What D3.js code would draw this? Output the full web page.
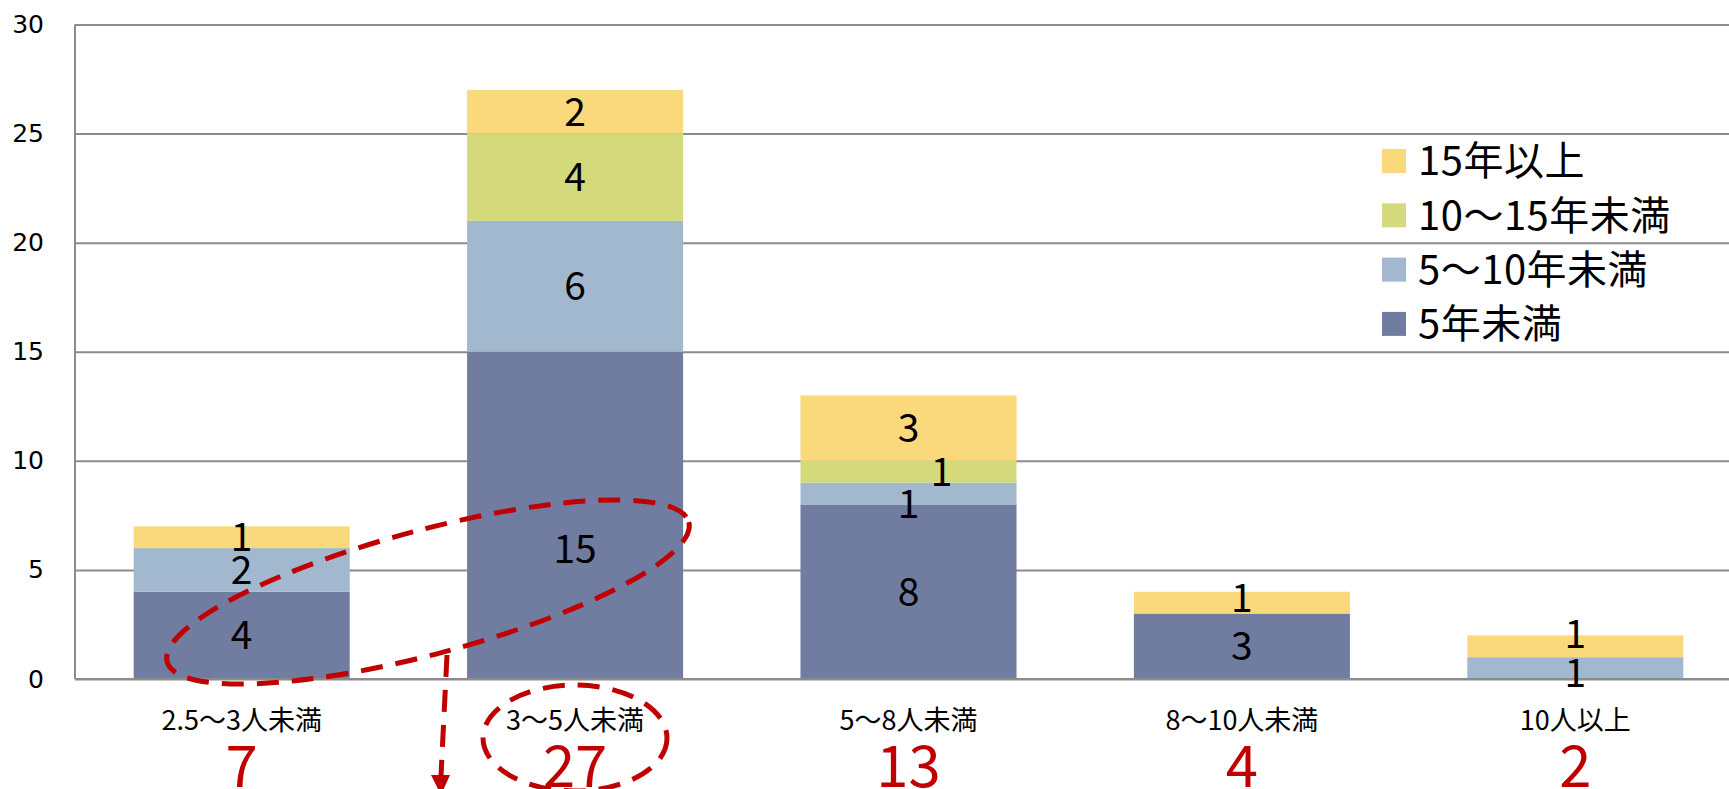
<!DOCTYPE html>
<html>
<head>
<meta charset="utf-8">
<script src="https://cdn.jsdelivr.net/npm/d3@7"></script>
<style>
  body { margin: 0; background: #fff; }
  svg { display: block; }
</style>
</head>
<body>
<div id="chart"></div>
<script>
// data
const categories = ["2.5〜3人未満", "3〜5人未満", "5〜8人未満", "8〜10人未満", "10人以上"];
const seriesNames = ["5年未満", "5〜10年未満", "10〜15年未満", "15年以上"];
const under5 = [4, 15, 8, 3, 0];
const from5to10 = [2, 6, 1, 0, 1];
const from10to15 = [0, 4, 1, 0, 0];
const over15 = [1, 2, 3, 1, 1];
const yTicks = [0, 5, 10, 15, 20, 25, 30];

const colors = ["#717ca1", "#a2b8ce", "#d4da7c", "#fad97c"];

const width = 1729;
const height = 789;
const margin = {top: 24.5, left: 75, bottom: 110};

const rows = categories.map((c, i) => ({
  cat: c,
  [seriesNames[0]]: under5[i],
  [seriesNames[1]]: from5to10[i],
  [seriesNames[2]]: from10to15[i],
  [seriesNames[3]]: over15[i]
}));

const svg = d3.select("#chart").append("svg")
  .attr("width", width)
  .attr("height", height);

const x = d3.scaleBand()
  .domain(categories)
  .range([margin.left, 1742])
  .paddingInner(0.352)
  .paddingOuter(0.176);

const y = d3.scaleLinear()
  .domain([0, 30])
  .range([height - margin.bottom, margin.top]);

const color = d3.scaleOrdinal().domain(seriesNames).range(colors);

// gridlines + y labels
const yAxis = svg.append("g")
  .attr("transform", `translate(${margin.left},0)`)
  .call(d3.axisLeft(y).tickValues(yTicks).tickSize(-(width - margin.left)).tickPadding(31));
yAxis.select(".domain").remove();
yAxis.selectAll("line").attr("stroke", "#8c8c8c").attr("stroke-width", 2);
yAxis.selectAll("text")
  .attr("font-family", "DejaVu Sans")
  .attr("font-size", 25)
  .attr("fill", "#000");

svg.append("line")
  .attr("x1", margin.left).attr("x2", margin.left)
  .attr("y1", y(30)).attr("y2", y(0))
  .attr("stroke", "#8c8c8c").attr("stroke-width", 2);

// stacked bars
const stacked = d3.stack().keys(seriesNames)(rows);

svg.append("g").selectAll("g")
  .data(stacked)
  .join("g")
  .attr("fill", d => color(d.key))
  .selectAll("rect")
  .data(d => d)
  .join("rect")
  .attr("x", d => x(d.data.cat))
  .attr("width", x.bandwidth())
  .attr("y", d => y(d[1]))
  .attr("height", d => y(d[0]) - y(d[1]));

// baseline drawn over bars
svg.append("line")
  .attr("x1", margin.left).attr("x2", width)
  .attr("y1", y(0)).attr("y2", y(0))
  .attr("stroke", "#8c8c8c").attr("stroke-width", 2);

// value labels (some were moved by hand in the original)
const nudge = {
  "3〜5人未満|5年未満": [0, 34],
  "5〜8人未満|10〜15年未満": [33, 0],
  "5〜8人未満|5〜10年未満": [0, 10],
  "10人以上|15年以上": [0, -12],
  "10人以上|5〜10年未満": [0, 5],
  "8〜10人未満|15年以上": [0, -5]
};

const labels = [];
stacked.forEach(s => s.forEach(d => {
  const v = d[1] - d[0];
  if (v > 0) {
    const n = nudge[d.data.cat + "|" + s.key] || [0, 0];
    labels.push({v: v, x: x(d.data.cat) + x.bandwidth() / 2 + n[0], y: y((d[0] + d[1]) / 2) + n[1]});
  }
}));

svg.append("g").selectAll("text")
  .data(labels)
  .join("text")
  .attr("x", d => d.x)
  .attr("y", d => d.y)
  .attr("dy", "0.36em")
  .attr("text-anchor", "middle")
  .attr("font-family", "Noto Sans CJK JP")
  .attr("font-size", 39)
  .attr("fill", "#000")
  .text(d => d.v);

// category labels
const xAxis = svg.append("g")
  .attr("transform", `translate(0,${y(0)})`)
  .call(d3.axisBottom(x).tickSize(0).tickPadding(0));
xAxis.select(".domain").remove();
xAxis.selectAll("text")
  .attr("y", 41)
  .attr("dy", "0.36em")
  .attr("font-family", "Noto Sans CJK JP")
  .attr("font-size", 27)
  .attr("fill", "#000");

// totals in red
svg.append("g").selectAll("text")
  .data(rows)
  .join("text")
  .attr("x", d => x(d.cat) + x.bandwidth() / 2)
  .attr("y", 766)
  .attr("dy", "0.36em")
  .attr("text-anchor", "middle")
  .attr("font-family", "Noto Sans CJK JP")
  .attr("font-size", 58)
  .attr("fill", "#c00000")
  .text(d => d3.sum(seriesNames, k => d[k]));

// legend
const legendOrder = seriesNames.slice().reverse();
const legend = svg.append("g").attr("transform", "translate(1382,149)");
legendOrder.forEach((k, i) => {
  const g = legend.append("g").attr("transform", `translate(0,${i * 54.3})`);
  g.append("rect").attr("width", 24).attr("height", 24).attr("fill", color(k));
  g.append("text")
    .attr("x", 36)
    .attr("y", 12)
    .attr("dy", "0.36em")
    .attr("font-family", "Noto Sans CJK JP")
    .attr("font-size", 40)
    .attr("letter-spacing", 0.5)
    .attr("fill", "#000")
    .text(k);
});

// red dashed annotations
const red = "#c00000";
svg.append("ellipse")
  .attr("cx", 428).attr("cy", 592)
  .attr("rx", 270).attr("ry", 62)
  .attr("transform", "rotate(-15,428,592)")
  .attr("fill", "none")
  .attr("stroke", red).attr("stroke-width", 5)
  .attr("stroke-dasharray", "22,13");

svg.append("ellipse")
  .attr("cx", 575).attr("cy", 738)
  .attr("rx", 92).attr("ry", 53)
  .attr("fill", "none")
  .attr("stroke", red).attr("stroke-width", 5)
  .attr("stroke-dasharray", "22,13");

svg.append("line")
  .attr("x1", 447).attr("y1", 655)
  .attr("x2", 441).attr("y2", 776)
  .attr("stroke", red).attr("stroke-width", 5)
  .attr("stroke-dasharray", "22,13");

svg.append("path")
  .attr("d", "M431,775 L450,775 L441,795 Z")
  .attr("fill", red);
</script>
</body>
</html>
